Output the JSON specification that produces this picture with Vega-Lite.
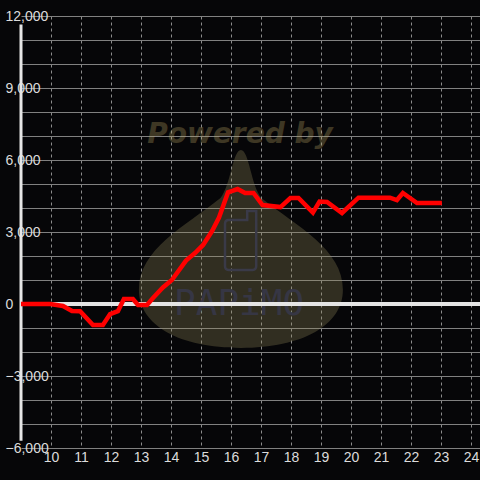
{
  "$schema": "https://vega.github.io/schema/vega-lite/v6.json",
  "width": 459,
  "height": 432,
  "autosize": "none",
  "padding": {"left": 21, "top": 16, "right": 0, "bottom": 32},
  "background": "#060608",
  "config": {
    "view": {"stroke": null},
    "font": "Liberation Sans",
    "style": {"guide-label": {"fontSize": 14, "fill": "#dcdcdc", "font": "Liberation Sans"}}
  },
  "layer": [
    {
      "data": {"values": [{}]},
      "mark": {
        "type": "point",
        "shape": "M0,-0.97 C0.08,-0.97 0.1,-0.62 0.2,-0.5 C0.55,-0.22 1,0 1,0.4 C1,0.75 0.6,0.97 0,0.97 C-0.6,0.97 -1,0.75 -1,0.4 C-1,0 -0.55,-0.22 -0.2,-0.5 C-0.1,-0.62 -0.08,-0.97 0,-0.97 Z",
        "filled": true,
        "fill": "#968c5d",
        "opacity": 0.3,
        "strokeWidth": 0,
        "size": 41616
      },
      "encoding": {
        "x": {"datum": 16.33, "type": "quantitative", "scale": {"domain": [9, 24.3], "nice": false, "zero": false},
          "axis": {"title": null, "values": [10, 11, 12, 13, 14, 15, 16, 17, 18, 19, 20, 21, 22, 23, 24], "format": "d", "grid": true, "gridColor": "#8c8c8c", "gridDash": [3, 3], "gridWidth": 1, "domain": false, "ticks": false, "labelColor": "#dcdcdc", "labelFontSize": 14, "labelFlush": false, "labelOverlap": false, "encode": {"labels": {"update": {"fontSize": {"value": 14}, "dy": {"value": 3}}}}}},
        "y": {"datum": 2292, "type": "quantitative", "scale": {"domain": [-6000, 12000], "nice": false, "zero": false},
          "axis": {"title": null, "offset": 14, "values": [-6000, -5000, -4000, -3000, -2000, -1000, 0, 1000, 2000, 3000, 4000, 5000, 6000, 7000, 8000, 9000, 10000, 11000, 12000], "labelExpr": "datum.value % 3000 === 0 ? format(datum.value, ',') : ''", "grid": true, "gridColor": "#808080", "gridWidth": 1, "domain": false, "ticks": false, "labelAlign": "left", "labelBaseline": "middle", "labelColor": "#dcdcdc", "labelFontSize": 14, "labelFlush": false, "labelOverlap": false, "encode": {"labels": {"update": {"fontSize": {"value": 14}}}}}}
      }
    },
    {
      "data": {"values": [{}]},
      "mark": {
        "type": "point",
        "shape": "M-0.52,-0.7 Q-0.52,-0.83 -0.4,-0.83 L0.22,-0.83 L0.22,-1.13 L0.52,-1.13 L0.52,0.7 Q0.52,0.83 0.4,0.83 L-0.4,0.83 Q-0.52,0.83 -0.52,0.7 Z",
        "filled": false,
        "stroke": "#3a3a48",
        "strokeWidth": 2.5,
        "opacity": 1,
        "size": 3600
      },
      "encoding": {
        "x": {"datum": 16.32, "type": "quantitative", "scale": {"domain": [9, 24.3], "nice": false, "zero": false},
          "axis": {"title": null, "values": [10, 11, 12, 13, 14, 15, 16, 17, 18, 19, 20, 21, 22, 23, 24], "format": "d", "grid": true, "gridColor": "#8c8c8c", "gridDash": [3, 3], "gridWidth": 1, "domain": false, "ticks": false, "labelColor": "#dcdcdc", "labelFontSize": 14, "labelFlush": false, "labelOverlap": false, "encode": {"labels": {"update": {"fontSize": {"value": 14}, "dy": {"value": 3}}}}}},
        "y": {"datum": 2458, "type": "quantitative", "scale": {"domain": [-6000, 12000], "nice": false, "zero": false},
          "axis": {"title": null, "offset": 14, "values": [-6000, -5000, -4000, -3000, -2000, -1000, 0, 1000, 2000, 3000, 4000, 5000, 6000, 7000, 8000, 9000, 10000, 11000, 12000], "labelExpr": "datum.value % 3000 === 0 ? format(datum.value, ',') : ''", "grid": true, "gridColor": "#808080", "gridWidth": 1, "domain": false, "ticks": false, "labelAlign": "left", "labelBaseline": "middle", "labelColor": "#dcdcdc", "labelFontSize": 14, "labelFlush": false, "labelOverlap": false, "encode": {"labels": {"update": {"fontSize": {"value": 14}}}}}}
      }
    },
    {
      "data": {"values": [{}]},
      "mark": {
        "type": "text",
        "font": "DejaVu Sans Mono",
        "fontSize": 36,
        "fill": "#363644",
        "align": "center",
        "baseline": "middle",
        "text": "PAPiMO"
      },
      "encoding": {
        "x": {"datum": 16.27, "type": "quantitative", "scale": {"domain": [9, 24.3], "nice": false, "zero": false},
          "axis": {"title": null, "values": [10, 11, 12, 13, 14, 15, 16, 17, 18, 19, 20, 21, 22, 23, 24], "format": "d", "grid": true, "gridColor": "#8c8c8c", "gridDash": [3, 3], "gridWidth": 1, "domain": false, "ticks": false, "labelColor": "#dcdcdc", "labelFontSize": 14, "labelFlush": false, "labelOverlap": false, "encode": {"labels": {"update": {"fontSize": {"value": 14}, "dy": {"value": 3}}}}}},
        "y": {"datum": 0, "type": "quantitative", "scale": {"domain": [-6000, 12000], "nice": false, "zero": false},
          "axis": {"title": null, "offset": 14, "values": [-6000, -5000, -4000, -3000, -2000, -1000, 0, 1000, 2000, 3000, 4000, 5000, 6000, 7000, 8000, 9000, 10000, 11000, 12000], "labelExpr": "datum.value % 3000 === 0 ? format(datum.value, ',') : ''", "grid": true, "gridColor": "#808080", "gridWidth": 1, "domain": false, "ticks": false, "labelAlign": "left", "labelBaseline": "middle", "labelColor": "#dcdcdc", "labelFontSize": 14, "labelFlush": false, "labelOverlap": false, "encode": {"labels": {"update": {"fontSize": {"value": 14}}}}}}
      }
    },
    {
      "data": {"values": [{}]},
      "mark": {
        "type": "text",
        "font": "DejaVu Sans",
        "fontSize": 28,
        "fontWeight": "bold",
        "fontStyle": "italic",
        "fill": "#beaa64",
        "opacity": 0.3,
        "align": "center",
        "baseline": "alphabetic",
        "text": "Powered by"
      },
      "encoding": {
        "x": {"datum": 16.3, "type": "quantitative", "scale": {"domain": [9, 24.3], "nice": false, "zero": false},
          "axis": {"title": null, "values": [10, 11, 12, 13, 14, 15, 16, 17, 18, 19, 20, 21, 22, 23, 24], "format": "d", "grid": true, "gridColor": "#8c8c8c", "gridDash": [3, 3], "gridWidth": 1, "domain": false, "ticks": false, "labelColor": "#dcdcdc", "labelFontSize": 14, "labelFlush": false, "labelOverlap": false, "encode": {"labels": {"update": {"fontSize": {"value": 14}, "dy": {"value": 3}}}}}},
        "y": {"datum": 6708, "type": "quantitative", "scale": {"domain": [-6000, 12000], "nice": false, "zero": false},
          "axis": {"title": null, "offset": 14, "values": [-6000, -5000, -4000, -3000, -2000, -1000, 0, 1000, 2000, 3000, 4000, 5000, 6000, 7000, 8000, 9000, 10000, 11000, 12000], "labelExpr": "datum.value % 3000 === 0 ? format(datum.value, ',') : ''", "grid": true, "gridColor": "#808080", "gridWidth": 1, "domain": false, "ticks": false, "labelAlign": "left", "labelBaseline": "middle", "labelColor": "#dcdcdc", "labelFontSize": 14, "labelFlush": false, "labelOverlap": false, "encode": {"labels": {"update": {"fontSize": {"value": 14}}}}}}
      }
    },
    {
      "data": {"values": [{}]},
      "mark": {"type": "rule", "color": "#e4e4e4", "strokeWidth": 4},
      "encoding": {
        "y": {"datum": 0, "type": "quantitative", "scale": {"domain": [-6000, 12000], "nice": false, "zero": false},
          "axis": {"title": null, "offset": 14, "values": [-6000, -5000, -4000, -3000, -2000, -1000, 0, 1000, 2000, 3000, 4000, 5000, 6000, 7000, 8000, 9000, 10000, 11000, 12000], "labelExpr": "datum.value % 3000 === 0 ? format(datum.value, ',') : ''", "grid": true, "gridColor": "#808080", "gridWidth": 1, "domain": false, "ticks": false, "labelAlign": "left", "labelBaseline": "middle", "labelColor": "#dcdcdc", "labelFontSize": 14, "labelFlush": false, "labelOverlap": false, "encode": {"labels": {"update": {"fontSize": {"value": 14}}}}}}
      }
    },
    {
      "data": {"values": [{}]},
      "mark": {"type": "rule", "color": "#e6e6e6", "strokeWidth": 3},
      "encoding": {
        "x": {"datum": 9, "type": "quantitative", "scale": {"domain": [9, 24.3], "nice": false, "zero": false},
          "axis": {"title": null, "values": [10, 11, 12, 13, 14, 15, 16, 17, 18, 19, 20, 21, 22, 23, 24], "format": "d", "grid": true, "gridColor": "#8c8c8c", "gridDash": [3, 3], "gridWidth": 1, "domain": false, "ticks": false, "labelColor": "#dcdcdc", "labelFontSize": 14, "labelFlush": false, "labelOverlap": false, "encode": {"labels": {"update": {"fontSize": {"value": 14}, "dy": {"value": 3}}}}}},
        "y": {"datum": -5700, "type": "quantitative", "scale": {"domain": [-6000, 12000], "nice": false, "zero": false},
          "axis": {"title": null, "offset": 14, "values": [-6000, -5000, -4000, -3000, -2000, -1000, 0, 1000, 2000, 3000, 4000, 5000, 6000, 7000, 8000, 9000, 10000, 11000, 12000], "labelExpr": "datum.value % 3000 === 0 ? format(datum.value, ',') : ''", "grid": true, "gridColor": "#808080", "gridWidth": 1, "domain": false, "ticks": false, "labelAlign": "left", "labelBaseline": "middle", "labelColor": "#dcdcdc", "labelFontSize": 14, "labelFlush": false, "labelOverlap": false, "encode": {"labels": {"update": {"fontSize": {"value": 14}}}}}},
        "y2": {"datum": 11650}
      }
    },
    {
      "data": {
        "values": [
          {"hour": 9.0, "value": 0},
          {"hour": 9.97, "value": 0},
          {"hour": 10.4, "value": -80},
          {"hour": 10.7, "value": -290},
          {"hour": 10.97, "value": -300},
          {"hour": 11.4, "value": -875},
          {"hour": 11.73, "value": -875},
          {"hour": 11.97, "value": -420},
          {"hour": 12.23, "value": -300},
          {"hour": 12.43, "value": 210},
          {"hour": 12.73, "value": 210},
          {"hour": 12.9, "value": -40},
          {"hour": 13.2, "value": -40},
          {"hour": 13.4, "value": 250},
          {"hour": 13.73, "value": 690},
          {"hour": 14.03, "value": 1000},
          {"hour": 14.5, "value": 1810},
          {"hour": 14.8, "value": 2125},
          {"hour": 15.07, "value": 2460},
          {"hour": 15.37, "value": 3040},
          {"hour": 15.6, "value": 3600},
          {"hour": 15.9, "value": 4650},
          {"hour": 16.07, "value": 4720},
          {"hour": 16.22, "value": 4790},
          {"hour": 16.47, "value": 4625},
          {"hour": 16.75, "value": 4625},
          {"hour": 17.05, "value": 4125},
          {"hour": 17.65, "value": 4040},
          {"hour": 17.98, "value": 4417},
          {"hour": 18.25, "value": 4417},
          {"hour": 18.73, "value": 3810},
          {"hour": 18.95, "value": 4270},
          {"hour": 19.2, "value": 4250},
          {"hour": 19.7, "value": 3792},
          {"hour": 20.25, "value": 4430},
          {"hour": 21.3, "value": 4430},
          {"hour": 21.53, "value": 4333},
          {"hour": 21.73, "value": 4625},
          {"hour": 22.2, "value": 4208},
          {"hour": 23.03, "value": 4208}
        ]
      },
      "mark": {"type": "line", "color": "#ff0000", "strokeWidth": 4.5},
      "encoding": {
        "x": {"field": "hour", "type": "quantitative", "scale": {"domain": [9, 24.3], "nice": false, "zero": false},
          "axis": {"title": null, "values": [10, 11, 12, 13, 14, 15, 16, 17, 18, 19, 20, 21, 22, 23, 24], "format": "d", "grid": true, "gridColor": "#8c8c8c", "gridDash": [3, 3], "gridWidth": 1, "domain": false, "ticks": false, "labelColor": "#dcdcdc", "labelFontSize": 14, "labelFlush": false, "labelOverlap": false, "encode": {"labels": {"update": {"fontSize": {"value": 14}, "dy": {"value": 3}}}}}},
        "y": {"field": "value", "type": "quantitative", "scale": {"domain": [-6000, 12000], "nice": false, "zero": false},
          "axis": {"title": null, "offset": 14, "values": [-6000, -5000, -4000, -3000, -2000, -1000, 0, 1000, 2000, 3000, 4000, 5000, 6000, 7000, 8000, 9000, 10000, 11000, 12000], "labelExpr": "datum.value % 3000 === 0 ? format(datum.value, ',') : ''", "grid": true, "gridColor": "#808080", "gridWidth": 1, "domain": false, "ticks": false, "labelAlign": "left", "labelBaseline": "middle", "labelColor": "#dcdcdc", "labelFontSize": 14, "labelFlush": false, "labelOverlap": false, "encode": {"labels": {"update": {"fontSize": {"value": 14}}}}}}
      }
    }
  ]
}
